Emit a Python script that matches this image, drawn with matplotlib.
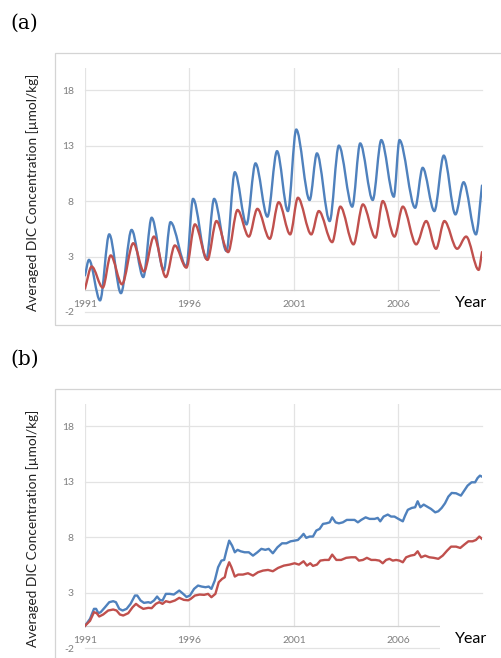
import matplotlib
matplotlib.use("Agg")
import matplotlib.pyplot as plt
from matplotlib.path import Path
from matplotlib.patches import PathPatch, Rectangle

# ---------------- data ----------------
year_ticks = [1991, 1996, 2001, 2006]
y_ticks = [-2, 3, 8, 13, 18]
panel_labels = ["(a)", "(b)"]
ylabel_text = "Averaged DIC Concentration [µmol/kg]"
xlabel_text = "Year"

# panel (a): seasonal extrema
a_blue_yr = [1991.0, 1991.19, 1991.72, 1992.16, 1992.72, 1993.23, 1993.79, 1994.19, 1994.77,
             1995.09, 1995.85, 1996.17, 1996.81, 1997.18, 1997.77, 1998.17, 1998.73, 1999.16,
             1999.73, 2000.19, 2000.71, 2001.11, 2001.75, 2002.10, 2002.71, 2003.15, 2003.79,
             2004.17, 2004.77, 2005.18, 2005.78, 2006.05, 2006.80, 2007.16, 2007.72, 2008.17,
             2008.73, 2009.12, 2009.71, 2010.0]
a_blue_val = [1.3, 2.7, -0.95, 5.0, -0.3, 5.4, 1.15, 6.5, 1.75, 6.1, 2.1, 8.2, 2.8, 8.2, 3.5,
              10.6, 5.9, 11.4, 6.6, 12.5, 7.1, 14.45, 8.1, 12.3, 6.2, 13.0, 7.5, 13.2, 8.1,
              13.5, 8.4, 13.5, 7.4, 11.0, 7.1, 12.1, 6.8, 9.7, 5.0, 9.4]
a_red_yr = [1991.0, 1991.32, 1991.85, 1992.23, 1992.77, 1993.31, 1993.82, 1994.30, 1994.87,
            1995.30, 1995.85, 1996.26, 1996.86, 1997.29, 1997.85, 1998.30, 1998.84, 1999.25,
            1999.84, 2000.27, 2000.82, 2001.19, 2001.83, 2002.19, 2002.83, 2003.22, 2003.85,
            2004.30, 2004.90, 2005.25, 2005.81, 2006.21, 2006.85, 2007.33, 2007.80, 2008.20,
            2008.81, 2009.24, 2009.84, 2010.0]
a_red_val = [0.1, 2.1, 0.2, 3.1, 0.5, 4.2, 1.65, 4.8, 1.15, 4.0, 2.0, 5.9, 2.7, 6.2, 3.4,
             7.2, 4.8, 7.3, 4.6, 7.9, 5.0, 8.3, 5.0, 7.1, 4.3, 7.5, 4.1, 7.7, 4.7, 8.0, 4.8,
             7.5, 4.1, 6.2, 3.7, 6.2, 3.7, 4.8, 1.8, 3.4]

# panel (b): trend series
b_blue_yr = [1991.00, 1991.24, 1991.43, 1991.53, 1991.64, 1991.75, 1991.96, 1992.16, 1992.35,
             1992.48, 1992.64, 1992.80, 1992.99, 1993.18, 1993.39, 1993.50, 1993.66, 1993.82,
             1994.03, 1994.14, 1994.30, 1994.45, 1994.58, 1994.71, 1994.87, 1995.06, 1995.25,
             1995.51, 1995.70, 1995.86, 1996.02, 1996.22, 1996.41, 1996.58, 1996.77, 1996.92,
             1997.05, 1997.21, 1997.37, 1997.53, 1997.66, 1997.77, 1997.90, 1998.04, 1998.17,
             1998.30, 1998.45, 1998.64, 1998.84, 1999.04, 1999.25, 1999.44, 1999.63, 1999.79,
             1999.99, 2000.21, 2000.43, 2000.64, 2000.84, 2001.03, 2001.19, 2001.35, 2001.46,
             2001.59, 2001.75, 2001.91, 2002.07, 2002.23, 2002.39, 2002.55, 2002.71, 2002.83,
             2002.99, 2003.15, 2003.34, 2003.53, 2003.74, 2003.90, 2004.06, 2004.22, 2004.43,
             2004.62, 2004.86, 2005.01, 2005.13, 2005.29, 2005.49, 2005.65, 2005.81, 2006.00,
             2006.21, 2006.32, 2006.45, 2006.64, 2006.80, 2006.92, 2007.05, 2007.21, 2007.37,
             2007.56, 2007.76, 2007.91, 2008.07, 2008.23, 2008.39, 2008.55, 2008.76, 2008.99,
             2009.15, 2009.31, 2009.50, 2009.67, 2009.79, 2009.90, 2010.00]
b_blue_val = [0.00, 0.63, 1.53, 1.53, 1.14, 1.23, 1.68, 2.13, 2.22, 2.13, 1.53, 1.38, 1.53,
              1.98, 2.73, 2.73, 2.28, 2.07, 2.13, 2.07, 2.28, 2.64, 2.34, 2.28, 2.88, 2.88,
              2.82, 3.18, 2.88, 2.60, 2.73, 3.33, 3.63, 3.54, 3.48, 3.54, 3.33, 4.08, 5.28,
              5.88, 5.94, 6.78, 7.68, 7.23, 6.63, 6.85, 6.72, 6.63, 6.63, 6.33, 6.63, 6.94,
              6.85, 6.94, 6.54, 7.08, 7.44, 7.44, 7.62, 7.68, 7.74, 8.05, 8.29, 7.93, 8.05,
              8.05, 8.59, 8.74, 9.19, 9.24, 9.33, 9.78, 9.33, 9.24, 9.33, 9.55, 9.55, 9.55,
              9.33, 9.55, 9.78, 9.64, 9.64, 9.73, 9.42, 9.85, 10.03, 9.85, 9.85, 9.64, 9.42,
              9.94, 10.46, 10.63, 10.69, 11.23, 10.69, 10.93, 10.75, 10.54, 10.23, 10.33,
              10.63, 11.05, 11.65, 11.98, 11.95, 11.74, 12.19, 12.64, 12.94, 12.94, 13.33,
              13.54, 13.45]
b_red_yr = [1991.00, 1991.24, 1991.43, 1991.56, 1991.68, 1991.87, 1992.11, 1992.35, 1992.51,
            1992.67, 1992.83, 1993.07, 1993.28, 1993.44, 1993.60, 1993.79, 1994.03, 1994.19,
            1994.39, 1994.55, 1994.71, 1994.87, 1995.06, 1995.30, 1995.51, 1995.73, 1995.94,
            1996.06, 1996.26, 1996.49, 1996.70, 1996.89, 1997.05, 1997.24, 1997.40, 1997.56,
            1997.69, 1997.78, 1997.90, 1998.01, 1998.17, 1998.33, 1998.56, 1998.80, 1999.04,
            1999.28, 1999.52, 1999.76, 1999.99, 2000.24, 2000.52, 2000.79, 2001.03, 2001.24,
            2001.46, 2001.62, 2001.78, 2001.91, 2002.10, 2002.26, 2002.47, 2002.67, 2002.83,
            2003.03, 2003.26, 2003.50, 2003.74, 2003.95, 2004.11, 2004.30, 2004.49, 2004.70,
            2004.90, 2005.09, 2005.25, 2005.41, 2005.57, 2005.73, 2005.89, 2006.05, 2006.21,
            2006.37, 2006.58, 2006.77, 2006.92, 2007.09, 2007.28, 2007.48, 2007.69, 2007.91,
            2008.12, 2008.33, 2008.52, 2008.76, 2008.96, 2009.15, 2009.35, 2009.55, 2009.71,
            2009.87, 2010.00]
b_red_val = [0.00, 0.45, 1.23, 1.14, 0.84, 1.02, 1.38, 1.47, 1.38, 1.02, 0.93, 1.14, 1.68,
             1.98, 1.74, 1.53, 1.62, 1.59, 1.98, 2.13, 1.98, 2.22, 2.13, 2.28, 2.52, 2.34,
             2.30, 2.43, 2.73, 2.82, 2.79, 2.88, 2.58, 2.88, 3.93, 4.23, 4.38, 5.13, 5.73,
             5.28, 4.44, 4.62, 4.62, 4.74, 4.53, 4.83, 4.98, 5.04, 4.92, 5.22, 5.43, 5.52,
             5.64, 5.52, 5.82, 5.43, 5.64, 5.40, 5.52, 5.88, 5.94, 5.94, 6.42, 5.94, 5.94,
             6.13, 6.18, 6.18, 5.88, 5.94, 6.13, 5.94, 5.94, 5.88, 5.64, 5.94, 6.04, 5.88,
             5.94, 5.88, 5.73, 6.18, 6.33, 6.40, 6.72, 6.18, 6.33, 6.18, 6.13, 6.04, 6.33,
             6.78, 7.14, 7.14, 7.02, 7.32, 7.62, 7.62, 7.74, 8.05, 7.84]

# ---------------- styling ----------------
BLUE = "#4F81BD"
RED = "#C0504D"
GRID = "#E3E3E3"
TICKC = "#7F7F7F"
FRAME = "#D4D4D4"
W, H = 501, 658

fig = plt.figure(figsize=(W / 100, H / 100), dpi=100)


def smooth_path(xs, ys):
    """Smoothed line through the extrema (horizontal tangent at each turning point)."""
    verts = [(xs[0], ys[0])]
    codes = [Path.MOVETO]
    n = len(xs)
    for i in range(n - 1):
        x0, y0, x1, y1 = xs[i], ys[i], xs[i + 1], ys[i + 1]
        dx = (x1 - x0) / 3.0
        c1 = (x0 + dx, y0 + (y1 - y0) / 3.0) if i == 0 else (x0 + dx, y0)
        c2 = (x1 - dx, y1 - (y1 - y0) / 3.0) if i == n - 2 else (x1 - dx, y1)
        verts += [c1, c2, (x1, y1)]
        codes += [Path.CURVE4] * 3
    return Path(verts, codes)


def setup_axes(top_px, label):
    # outer chart frame
    fig.patches.append(Rectangle((55 / W, 1 - (top_px - 15 + 272) / H), 1.2, 272 / H,
                                 transform=fig.transFigure, fill=False,
                                 edgecolor=FRAME, lw=0.9, zorder=0))
    ax = fig.add_axes([85 / W, 1 - (top_px + 244) / H, 397 / W, 244 / H])
    ax.set_xlim(1991, 2010)
    ax.set_ylim(-2, 20)
    for s in ax.spines.values():
        s.set_visible(False)
    ax.set_facecolor("none")
    ax.set_xticks([])
    ax.set_yticks(y_ticks)
    ax.set_yticklabels([str(v) for v in y_ticks], fontsize=7.5, color=TICKC, family="Lato")
    ax.tick_params(axis="y", length=0, pad=8)
    for v in y_ticks:
        ax.axhline(v, color=GRID, lw=0.9, zorder=0, clip_on=False)
    ax.axhline(0, color="#D0D0D0", lw=0.9, zorder=0.5)
    for yr in year_ticks:
        ax.axvline(yr, ymin=2 / 22, ymax=1, color=GRID, lw=0.9, zorder=0)
        ax.text(yr, -1.28, str(yr), ha="center", va="center", fontsize=7.5,
                color=TICKC, family="Lato")
    # panel label
    fig.text(10 / W, 1 - (top_px - 45) / H, label, ha="left", va="center",
             fontsize=14.5, family="DejaVu Serif")
    # y label
    fig.text(33 / W, 1 - (top_px + 124) / H, ylabel_text, rotation=90,
             ha="center", va="center", fontsize=9.8, family="Lato", color="#222222")
    # Year label with white box
    fig.patches.append(Rectangle((440 / W, 1 - (top_px + 250) / H), 70 / W, 31 / H,
                                 transform=fig.transFigure, facecolor="white",
                                 edgecolor="none", zorder=5))
    fig.text(471 / W, 1 - (top_px + 235) / H, xlabel_text, ha="center", va="center",
             fontsize=11.5, family="Lato", color="black", zorder=6)
    return ax


ax_a = setup_axes(68, panel_labels[0])
ax_a.add_patch(PathPatch(smooth_path(a_blue_yr, a_blue_val), fill=False,
                         edgecolor=BLUE, lw=1.7, zorder=3, capstyle="round"))
ax_a.add_patch(PathPatch(smooth_path(a_red_yr, a_red_val), fill=False,
                         edgecolor=RED, lw=1.7, zorder=4, capstyle="round"))

ax_b = setup_axes(404, panel_labels[1])
ax_b.plot(b_blue_yr, b_blue_val, color=BLUE, lw=1.7, zorder=3, solid_joinstyle="round")
ax_b.plot(b_red_yr, b_red_val, color=RED, lw=1.7, zorder=4, solid_joinstyle="round")

fig.savefig("out.png", dpi=100, facecolor="white")
